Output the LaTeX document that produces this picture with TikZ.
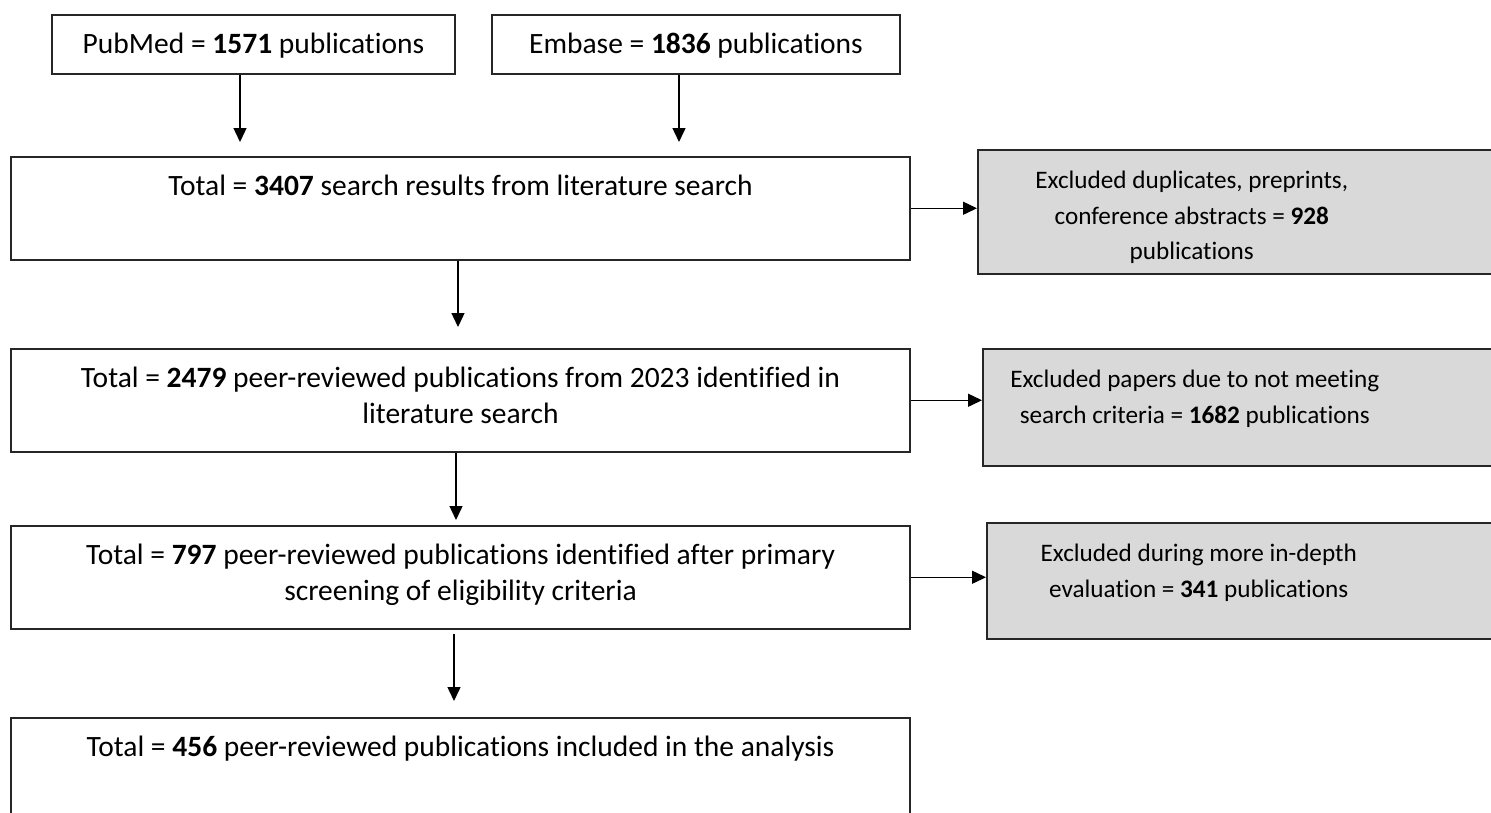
\documentclass[tikz,border=0pt]{standalone}
\usepackage{fontspec}
\setmainfont{Carlito}[Ligatures=NoCommon]
\usetikzlibrary{arrows.meta}
\definecolor{exgray}{HTML}{D9D9D9}
\newcommand{\stagetext}[2]{\parbox[t]{#1}{\centering #2}}
\tikzset{
    stagebox/.style={
    draw=black!85,
    line width=1.5pt,
    inner sep=0pt,
    anchor=north,
    text height=39pt,
    },
    excludebox/.style={stagebox, fill=exgray, anchor=north west, text height=39pt,
    font=\fontsize{25.2}{35.5}\selectfont},
    flowarrow/.style={-{Triangle[length=14pt,width=13pt]}, line width=1.4pt},
}

\begin{document}
\begin{tikzpicture}[x=1pt, y=-1pt, font=\fontsize{29.5}{36}\selectfont]
\useasboundingbox (0,0) rectangle (1491,812);
\clip (0,0) rectangle (1491,812);
% sources
\node[stagebox, minimum width=403pt, text depth=20pt] (pubmed) at (253.5,14) {PubMed = \textbf{1571} publications};
\node[stagebox, minimum width=408pt, text depth=20pt] (embase) at (696,14) {Embase = \textbf{1836} publications};
% main stages
\node[stagebox, minimum width=899pt, text depth=64pt] (total) at (460.5,156) {\stagetext{880pt}{Total = \textbf{3407} search results from literature search}};
\node[stagebox, minimum width=899pt, text depth=64pt] (peer) at (460.5,348) {\stagetext{880pt}{Total = \textbf{2479} peer-reviewed publications from 2023 identified in\\ literature search}};
\node[stagebox, minimum width=899pt, text depth=64pt] (screened) at (460.5,525) {\stagetext{880pt}{Total = \textbf{797} peer-reviewed publications identified after primary\\ screening of eligibility criteria}};
\node[stagebox, minimum width=899pt, text depth=81pt] (included) at (460.5,717) {\stagetext{880pt}{Total = \textbf{456} peer-reviewed publications included in the analysis}};
% exclusions (run off the right edge)
\node[excludebox, text depth=85pt] (duplicates) at (977,149) {\stagetext{428pt}{Excluded duplicates, preprints,\\ conference abstracts = \textbf{928}\\ publications}\rule{100pt}{0pt}};
\node[excludebox, text depth=78pt] (criteria) at (982,348) {\stagetext{424pt}{Excluded papers due to not meeting\\ search criteria = \textbf{1682} publications}\rule{100pt}{0pt}};
\node[excludebox, text depth=77pt] (indepth) at (986,522) {\stagetext{424pt}{Excluded during more in-depth\\ evaluation = \textbf{341} publications}\rule{100pt}{0pt}};
% downward arrows
\draw[flowarrow, shorten >=14pt] ([xshift=-13.5pt]pubmed.south) -- ([xshift=-13.5pt]pubmed.south |- total.north);
\draw[flowarrow, shorten >=14pt] ([xshift=-17pt]embase.south) -- ([xshift=-17pt]embase.south |- total.north);
\draw[flowarrow, shorten >=21pt] ([xshift=-2.5pt]total.south) -- ([xshift=-2.5pt]total.south |- peer.north);
\draw[flowarrow, shorten >=5pt] ([xshift=-4.5pt]peer.south) -- ([xshift=-4.5pt]peer.south |- screened.north);
\draw[flowarrow, shorten <=4pt, shorten >=16pt] ([xshift=-6.5pt]screened.south) -- ([xshift=-6.5pt]screened.south |- included.north);
% exclusion arrows
\draw[flowarrow] (total.east) -- (total.east -| duplicates.west);
\draw[flowarrow] (peer.east) -- (peer.east -| criteria.west);
\draw[flowarrow] (screened.east) -- (screened.east -| indepth.west);
\end{tikzpicture}
\end{document}
